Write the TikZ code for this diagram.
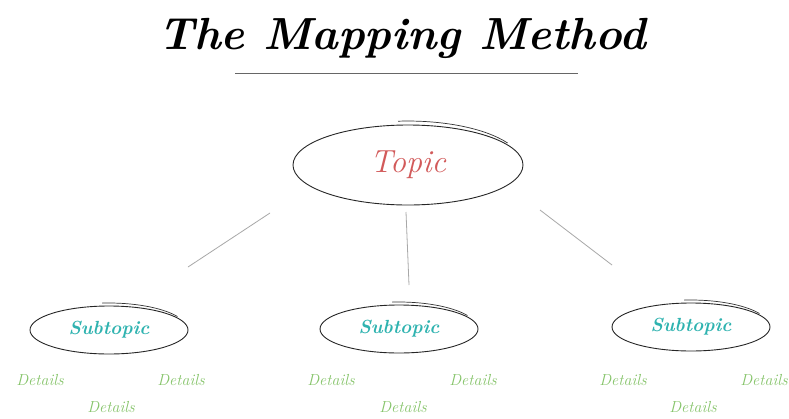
\documentclass[tikz,border=0pt]{standalone}
\usepackage{fontspec}
\setmainfont{Latin Modern Roman}
\usetikzlibrary{shapes.geometric}
\definecolor{topicred}{HTML}{D25A5A}
\definecolor{subteal}{HTML}{2FB3B0}
\definecolor{detgreen}{HTML}{86C46A}
\definecolor{linegray}{HTML}{A8A8A8}
\tikzset{
  oval/.style={ellipse, draw=black!85, line width=0.9pt, inner sep=0pt},
  topicbox/.style={oval, minimum width=230pt, minimum height=80pt, text=topicred, font=\itshape\fontsize{32}{32}\selectfont},
  subbox/.style={oval, minimum width=158pt, minimum height=48pt, text=subteal, font=\itshape\bfseries\fontsize{19}{19}\selectfont},
  detail/.style={text=detgreen, font=\itshape\fontsize{16}{16}\selectfont, inner sep=0pt},
  link/.style={draw=linegray, line width=0.8pt},
  overshoot/.style={draw=black!80, line width=0.7pt},
}
\begin{document}
\begin{tikzpicture}[x=1pt,y=-1pt]
\useasboundingbox[fill=white] (0,0) rectangle (789,418);
\node[font=\bfseries\itshape\fontsize{45}{45}\selectfont] (title) at (402,38) {The Mapping Method};
\coordinate (ula) at (235,73);
\coordinate (ulb) at (578,73);
\draw[draw=black!60, line width=1pt] (ula) -- (ulb);

\node[topicbox] (topic) at (408,165) {Topic};
\node[subbox] (s1) at (109,330) {Subtopic};
\node[subbox] (s2) at (399,329) {Subtopic};
\node[subbox] (s3) at (691,327) {Subtopic};

% hand-drawn overshoot strokes
\draw[overshoot] ([shift={(-10.0pt,43.8pt)}]topic.center) arc[start angle=95,end angle=30,x radius=115pt,y radius=44pt];
\draw[overshoot] ([shift={(-6.9pt,26.9pt)}]s1.center) arc[start angle=95,end angle=30,x radius=79pt,y radius=27pt];
\draw[overshoot] ([shift={(-6.9pt,26.9pt)}]s2.center) arc[start angle=95,end angle=30,x radius=79pt,y radius=27pt];
\draw[overshoot] ([shift={(-6.9pt,26.9pt)}]s3.center) arc[start angle=95,end angle=30,x radius=79pt,y radius=27pt];

\coordinate (a1) at (270,213); \coordinate (b1) at (188,267);
\coordinate (a2) at (406,212); \coordinate (b2) at (409,285);
\coordinate (a3) at (540,210); \coordinate (b3) at (612,265);
\draw[link] (a1) -- (b1);
\draw[link] (a2) -- (b2);
\draw[link] (a3) -- (b3);

\node[detail] (d11) at (40,380) {Details};
\node[detail] (d12) at (181,380) {Details};
\node[detail] (d13) at (111,407) {Details};
\node[detail] (d21) at (331,380) {Details};
\node[detail] (d22) at (473,380) {Details};
\node[detail] (d23) at (403,407) {Details};
\node[detail] (d31) at (623,380) {Details};
\node[detail] (d32) at (764,380) {Details};
\node[detail] (d33) at (693,407) {Details};
\end{tikzpicture}
\end{document}
